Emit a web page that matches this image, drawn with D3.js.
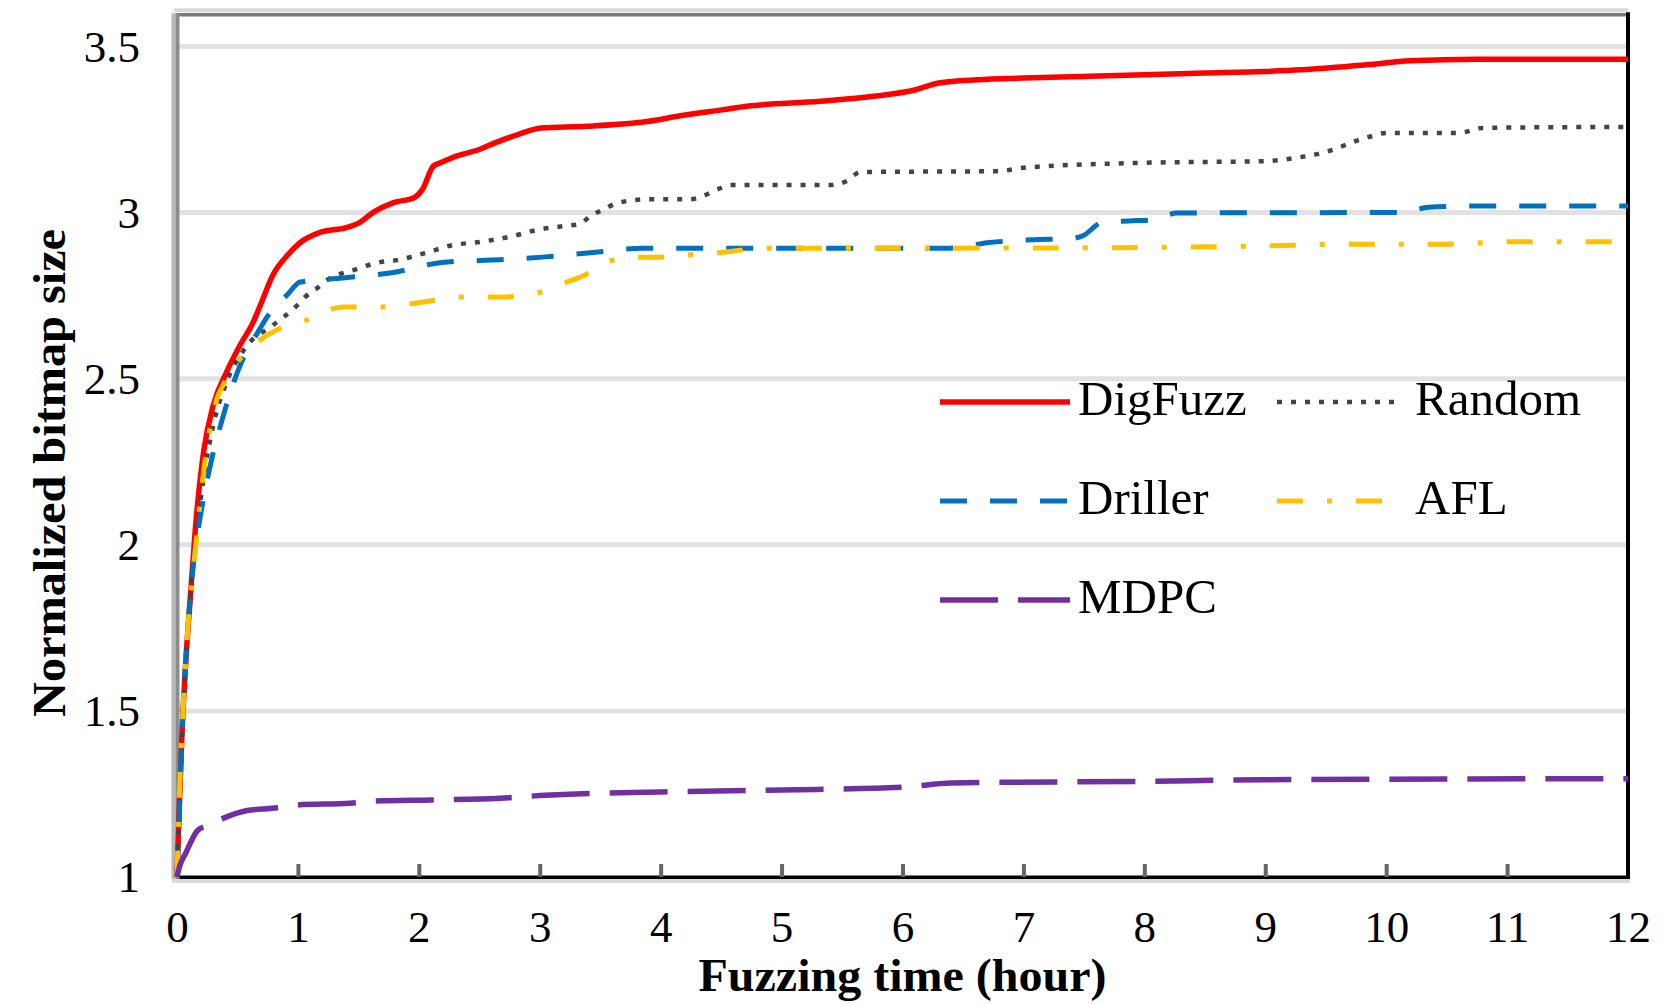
<!DOCTYPE html>
<html>
<head>
<meta charset="utf-8">
<script src="https://cdn.jsdelivr.net/npm/d3@7"></script>
<style>
  html, body { margin: 0; padding: 0; background: #fff; }
  svg { display: block; }
  text { font-family: "Liberation Serif", "Times New Roman", serif; fill: #000; }
</style>
</head>
<body>
<svg id="chart" width="1674" height="1004"></svg>
<script>
// Normalized bitmap size over 12 hours of fuzzing, one [hour, size] list per tool
const digfuzz = [[0,1],[0.02,1.22],[0.04,1.42],[0.08,1.69],[0.11,1.84],[0.15,2.04],[0.22,2.28],[0.3,2.42],[0.41,2.52],[0.52,2.6],[0.63,2.67],[0.71,2.74],[0.79,2.81],[0.91,2.87],[1.02,2.91],[1.18,2.94],[1.4,2.955],[1.51,2.97],[1.62,3.0],[1.79,3.03],[1.96,3.045],[2.03,3.07],[2.12,3.14],[2.18,3.15],[2.31,3.17],[2.5,3.19],[2.63,3.21],[2.82,3.235],[3.01,3.255],[3.39,3.26],[3.9,3.275],[4.14,3.29],[4.52,3.31],[4.71,3.32],[5.32,3.335],[5.76,3.35],[6.11,3.37],[6.3,3.39],[6.62,3.4],[7.0,3.405],[7.5,3.41],[8.0,3.415],[8.5,3.42],[9.0,3.425],[9.3,3.43],[9.84,3.445],[10.2,3.457],[10.75,3.462],[12,3.462]];
const random = [[0,1],[0.02,1.2],[0.04,1.4],[0.07,1.62],[0.1,1.8],[0.15,2.0],[0.22,2.2],[0.3,2.36],[0.4,2.48],[0.58,2.6],[0.79,2.66],[0.98,2.716],[1.06,2.746],[1.16,2.773],[1.24,2.797],[1.46,2.827],[1.68,2.851],[1.82,2.857],[2.05,2.878],[2.28,2.902],[2.51,2.912],[2.75,2.927],[2.98,2.948],[3.21,2.96],[3.33,2.966],[3.42,2.99],[3.53,3.01],[3.65,3.03],[3.9,3.04],[4.24,3.04],[4.35,3.05],[4.47,3.07],[4.58,3.083],[5.4,3.083],[5.54,3.095],[5.65,3.122],[6.8,3.125],[7,3.135],[8,3.15],[9,3.155],[9.29,3.167],[9.43,3.176],[9.55,3.188],[9.66,3.203],[9.77,3.218],[9.88,3.23],[10.0,3.24],[10.6,3.24],[10.8,3.255],[12,3.258]];
const driller = [[0,1],[0.02,1.2],[0.04,1.42],[0.07,1.64],[0.13,1.92],[0.2,2.1],[0.27,2.23],[0.38,2.385],[0.5,2.52],[0.69,2.653],[0.74,2.683],[0.91,2.752],[1.02,2.791],[1.37,2.803],[1.79,2.82],[2.19,2.85],[2.6,2.857],[3.02,2.866],[3.44,2.88],[3.85,2.893],[6.39,2.893],[6.72,2.91],[7.06,2.918],[7.4,2.922],[7.49,2.93],[7.65,2.97],[7.87,2.975],[8.07,2.978],[8.27,2.999],[9.8,3.0],[10.14,3.0],[10.35,3.016],[10.76,3.02],[12,3.02]];
const afl = [[0,1],[0.02,1.25],[0.05,1.5],[0.09,1.75],[0.15,1.98],[0.22,2.22],[0.33,2.44],[0.38,2.48],[0.5,2.55],[0.61,2.595],[0.7,2.62],[0.82,2.646],[1.07,2.676],[1.37,2.716],[1.69,2.716],[2.04,2.731],[2.35,2.746],[2.69,2.746],[3.0,2.76],[3.22,2.79],[3.36,2.81],[3.55,2.85],[3.77,2.866],[4.0,2.866],[4.2,2.872],[4.5,2.88],[4.86,2.893],[6.0,2.893],[8.0,2.895],[9.0,2.9],[9.7,2.905],[10.5,2.905],[11,2.912],[12,2.912]];
const mdpc = [[0,1],[0.02,1.03],[0.07,1.07],[0.17,1.14],[0.25,1.155],[0.37,1.175],[0.58,1.2],[0.79,1.207],[1.0,1.217],[1.43,1.222],[1.65,1.229],[2.11,1.232],[2.67,1.237],[3,1.245],[4,1.256],[5,1.262],[6,1.27],[6.4,1.283],[8,1.288],[9,1.293],[12,1.296]];

const seriesNames = ["DigFuzz", "Random", "Driller", "AFL", "MDPC"];
const seriesData = [digfuzz, random, driller, afl, mdpc];

const xTicks = [0,1,2,3,4,5,6,7,8,9,10,11,12];
const xTickLabels = ["0","1","2","3","4","5","6","7","8","9","10","11","12"];
const yTicks = [1,1.5,2,2.5,3,3.5];
const yTickLabels = ["1","1.5","2","2.5","3","3.5"];
const xTitle = "Fuzzing time (hour)";
const yTitle = "Normalized bitmap size";

// line styles, in the same order as seriesNames
const styles = [
  { color: "#ff0000", width: 5.5, dash: null },
  { color: "#444444", width: 4.5, dash: "5,9" },
  { color: "#0070c0", width: 5,   dash: "27,23" },
  { color: "#ffc000", width: 5,   dash: "26,24,5,24" },
  { color: "#7030a0", width: 5.5, dash: "58,20" }
];

const svg = d3.select("#chart");
const plotLeft = 177, plotRight = 1628, plotTop = 13.3, plotBottom = 877;

const x = d3.scaleLinear().domain([0, 12]).range([plotLeft, plotRight]);
const y = d3.scaleLinear().domain([1, 3.6]).range([plotBottom, plotTop]);

// horizontal gridlines
svg.append("g").selectAll("line")
  .data(yTicks.filter(v => v > 1))
  .join("line")
  .attr("x1", plotLeft).attr("x2", plotRight)
  .attr("y1", d => y(d)).attr("y2", d => y(d))
  .attr("stroke", "#e2e2e2").attr("stroke-width", 5);

// frame: light left/top edges, dark bottom/right edges
const frame = svg.append("g");
frame.append("line").attr("x1", plotLeft - 3).attr("x2", plotRight).attr("y1", plotTop - 3).attr("y2", plotTop - 3)
  .attr("stroke", "#dadada").attr("stroke-width", 4);
frame.append("line").attr("x1", plotLeft).attr("x2", plotRight).attr("y1", plotTop + 1.5).attr("y2", plotTop + 1.5)
  .attr("stroke", "#7a7a7a").attr("stroke-width", 3.5);
frame.append("line").attr("x1", plotLeft - 3.5).attr("x2", plotLeft - 3.5).attr("y1", plotTop).attr("y2", plotBottom + 2)
  .attr("stroke", "#b8b8b8").attr("stroke-width", 4);
frame.append("line").attr("x1", plotLeft + 0.5).attr("x2", plotLeft + 0.5).attr("y1", plotTop).attr("y2", plotBottom + 2)
  .attr("stroke", "#8c8c8c").attr("stroke-width", 4);
frame.append("line").attr("x1", plotLeft - 5).attr("x2", plotRight + 2).attr("y1", plotBottom + 4).attr("y2", plotBottom + 4)
  .attr("stroke", "#dadada").attr("stroke-width", 4);

// x axis with short inward ticks
const xAxis = d3.axisBottom(x)
  .tickValues(xTicks)
  .tickFormat((d, i) => xTickLabels[i])
  .tickSizeInner(-13).tickSizeOuter(0).tickPadding(33);
const gx = svg.append("g").attr("transform", `translate(0,${plotBottom})`).call(xAxis);
gx.select(".domain").attr("stroke", "#000").attr("stroke-width", 4);
gx.selectAll(".tick line").attr("stroke", "#666").attr("stroke-width", 4)
  .attr("opacity", d => (d === 0 || d === 12) ? 0 : 1);
gx.selectAll(".tick text").attr("font-size", 45)
  .attr("font-family", "'Liberation Serif', 'Times New Roman', serif").attr("fill", "#000");

// right edge
frame.append("line").attr("x1", plotRight).attr("x2", plotRight).attr("y1", plotTop - 1).attr("y2", plotBottom + 2)
  .attr("stroke", "#000").attr("stroke-width", 4);
frame.raise();

// y axis labels
const yAxis = d3.axisLeft(y)
  .tickValues(yTicks)
  .tickFormat((d, i) => yTickLabels[i])
  .tickSize(0).tickPadding(37);
const gy = svg.append("g").attr("transform", `translate(${plotLeft},0)`).call(yAxis);
gy.select(".domain").remove();
gy.selectAll(".tick text").attr("font-size", 45).attr("dy", "0.33em")
  .attr("font-family", "'Liberation Serif', 'Times New Roman', serif").attr("fill", "#000");

// series lines
const line = d3.line().x(d => x(d[0])).y(d => y(d[1])).curve(d3.curveMonotoneX);
const drawOrder = [0, 1, 2, 3, 4];
svg.append("g").selectAll("path")
  .data(drawOrder)
  .join("path")
  .attr("d", i => line(seriesData[i]))
  .attr("fill", "none")
  .attr("stroke", i => styles[i].color)
  .attr("stroke-width", i => styles[i].width)
  .attr("stroke-dasharray", i => styles[i].dash)
  .attr("stroke-linejoin", "round");

// legend: two columns, three rows
const legendCols = [940, 1277];
const legendRows = [415, 514, 613];
const legendLineLen = [130, 125];
const legend = svg.append("g");
seriesNames.forEach((name, i) => {
  const col = i % 2, row = Math.floor(i / 2);
  const lx = legendCols[col], base = legendRows[row];
  const ly = base - 13;
  legend.append("line")
    .attr("x1", lx).attr("x2", lx + legendLineLen[col])
    .attr("y1", ly).attr("y2", ly)
    .attr("stroke", styles[i].color)
    .attr("stroke-width", styles[i].width)
    .attr("stroke-dasharray", styles[i].dash);
  legend.append("text")
    .attr("x", lx + 138).attr("y", base)
    .attr("font-size", 49)
    .text(name);
});

// axis titles
svg.append("text")
  .attr("x", (plotLeft + plotRight) / 2).attr("y", 991)
  .attr("text-anchor", "middle")
  .attr("font-size", 47).attr("font-weight", "bold")
  .attr("textLength", 408).attr("lengthAdjust", "spacingAndGlyphs")
  .text(xTitle);

svg.append("text")
  .attr("transform", "translate(65,473) rotate(-90)")
  .attr("text-anchor", "middle")
  .attr("font-size", 47).attr("font-weight", "bold")
  .attr("textLength", 488).attr("lengthAdjust", "spacingAndGlyphs")
  .text(yTitle);
</script>
</body>
</html>
